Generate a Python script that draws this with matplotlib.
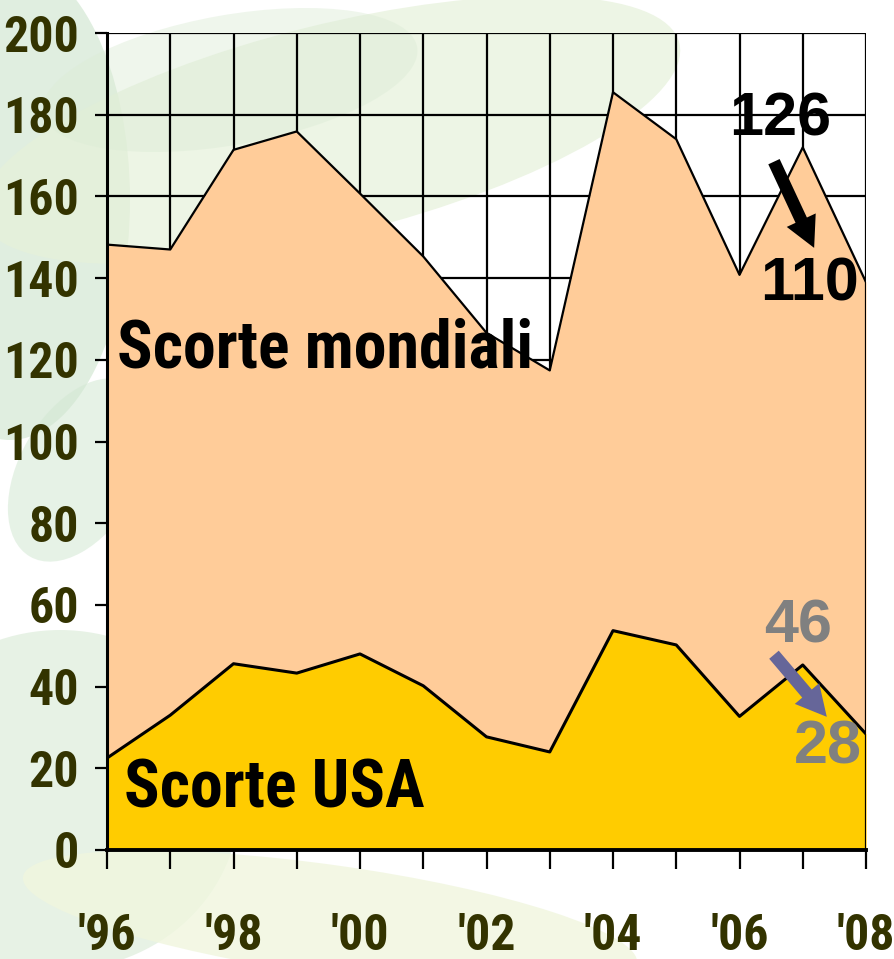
import matplotlib
matplotlib.use("Agg")
import matplotlib.pyplot as plt
from matplotlib import font_manager
from matplotlib.patches import Ellipse
import numpy as np

# Dati: scorte mondiali e scorte USA
anni = [1996, 1997, 1998, 1999, 2000, 2001, 2002, 2003, 2004, 2005, 2006, 2007, 2008]
scorte_mondiali = [148.2, 147.0, 171.4, 175.9, 160.7, 145.3, 126.6, 117.4, 185.5, 174.0, 140.8, 172.0, 139.0]
scorte_usa = [22.5, 33.0, 45.6, 43.3, 48.0, 40.2, 27.7, 24.0, 53.7, 50.2, 32.7, 45.3, 28.4]
anni_etichette = [1996, 1998, 2000, 2002, 2004, 2006, 2008]
etichette_x = ["'96", "'98", "'00", "'02", "'04", "'06", "'08"]

# primo font stretto in grassetto disponibile
candidati = ['Liberation Sans Narrow', 'Arimo Narrow', 'Roboto Condensed', 'PT Sans Narrow',
             'Barlow Semi Condensed', 'Barlow Condensed', 'Archivo Narrow', 'Fira Sans Extra Condensed']
grassetti = {f.name for f in font_manager.fontManager.ttflist if f.weight in (700, 'bold')}
stretto = next((c for c in candidati if c in grassetti), 'DejaVu Sans')
NARROW = [stretto, 'DejaVu Sans']
BOLD = ['Liberation Sans', 'DejaVu Sans']
OLIVA = '#333300'

fig = plt.figure(figsize=(8.95, 9.59), dpi=100)
renderer = fig.canvas.get_renderer()


def adatta(t, larghezza_px, cap_px):
    # compromesso fra larghezza e altezza del riferimento (un po' piu' peso all'altezza)
    fs = t.get_fontsize()
    w = t.get_window_extent(renderer).width
    s_w = fs * larghezza_px / w
    s_h = cap_px / 0.71 * 72 / 100
    t.set_fontsize(s_w ** 0.4 * s_h ** 0.6)
    return t.get_fontsize()


# sfondo decorativo (foglie verdi sfumate), in pixel
bg = fig.add_axes([0, 0, 1, 1], zorder=0)
bg.set_xlim(0, 895)
bg.set_ylim(959, 0)
bg.axis('off')
for (cx, cy, w, h, ang, col, a) in [
    (10, 200, 240, 480, 0, '#d3e8d3', 0.7),
    (330, 130, 720, 210, -14, '#e6f1da', 0.7),
    (230, 80, 380, 130, -10, '#dcecd6', 0.45),
    (80, 470, 120, 200, 30, '#d3e8d3', 0.55),
    (60, 800, 360, 340, 0, '#d8ead5', 0.6),
    (330, 920, 620, 110, 8, '#f0f6de', 0.8),
]:
    bg.add_patch(Ellipse((cx, cy), w, h, angle=ang, color=col, alpha=a, lw=0))

ax = fig.add_axes([107 / 895, 1 - 850 / 959, (866 - 107) / 895, (850 - 33) / 959], zorder=1)
ax.patch.set_alpha(0)

ax.fill_between(anni, scorte_mondiali, color='#ffcc99', zorder=2, lw=0)
ax.fill_between(anni, scorte_usa, color='#ffcc00', zorder=3, lw=0)
ax.plot(anni, scorte_mondiali, color='black', lw=1.6, zorder=4)
ax.plot(anni, scorte_usa, color='black', lw=2.2, zorder=4)
ax.plot([2008, 2008], [0, scorte_mondiali[-1]], color='black', lw=1.6, zorder=4)

ax.set_xlim(1996, 2008)
ax.set_ylim(0, 200)
ax.set_yticks(np.arange(0, 201, 20))
ax.set_xticks(anni_etichette)
ax.set_xticks(anni, minor=True)
ax.set_xticklabels(etichette_x)
ax.grid(True, which='both', color='black', lw=1.6, zorder=1)
ax.set_axisbelow(True)

for s in ['top', 'right']:
    ax.spines[s].set_visible(False)
ax.spines['left'].set_linewidth(2.2)
ax.spines['bottom'].set_linewidth(2.8)
ax.spines['left'].set_zorder(5)
ax.spines['bottom'].set_zorder(5)

# dimensione delle etichette degli assi misurata su "200"
prova = fig.text(0, 0, '200', family=NARROW, fontweight='bold', fontsize=40)
fs_tick = adatta(prova, 63, 40)
prova.remove()

ax.tick_params(axis='y', length=9, width=1.6, pad=11, labelsize=fs_tick, labelcolor=OLIVA)
ax.tick_params(axis='x', which='both', length=14, width=1.6, pad=31, labelsize=fs_tick, labelcolor=OLIVA)
for lab in ax.get_yticklabels() + ax.get_xticklabels():
    lab.set_family(NARROW)
    lab.set_fontweight('bold')

t1 = ax.text(1996.16, 122.5, 'Scorte mondiali', family=NARROW, fontweight='bold', fontsize=50,
             ha='left', va='center', zorder=6)
fs_big = adatta(t1, 347, 53)
ax.text(1996.27, 14.7, 'Scorte USA', family=NARROW, fontweight='bold', fontsize=fs_big,
        ha='left', va='center', zorder=6)

ax.text(2006.64, 178.7, '126', family=BOLD, fontweight='bold', fontsize=44, ha='center', va='center', zorder=6)
ax.text(2007.10, 138.4, '110', family=BOLD, fontweight='bold', fontsize=44, ha='center', va='center', zorder=6)
ax.text(2006.92, 54.5, '46', family=BOLD, fontweight='bold', fontsize=44, color='#808080',
        ha='center', va='center', zorder=6)
ax.text(2007.39, 24.9, '28', family=BOLD, fontweight='bold', fontsize=44, color='#808080',
        ha='center', va='center', zorder=6)

stile = 'simple,head_width=1.15,head_length=1.1,tail_width=0.45'
ax.annotate('', xy=(2007.18, 147.4), xytext=(2006.545, 168.5),
            arrowprops=dict(arrowstyle=stile, color='black', lw=0, mutation_scale=20,
                            shrinkA=0, shrinkB=0), zorder=6)
ax.annotate('', xy=(2007.38, 32.6), xytext=(2006.545, 47.8),
            arrowprops=dict(arrowstyle=stile, color='#666699', lw=0, mutation_scale=20,
                            shrinkA=0, shrinkB=0), zorder=6)

fig.savefig('out.png', dpi=100)
